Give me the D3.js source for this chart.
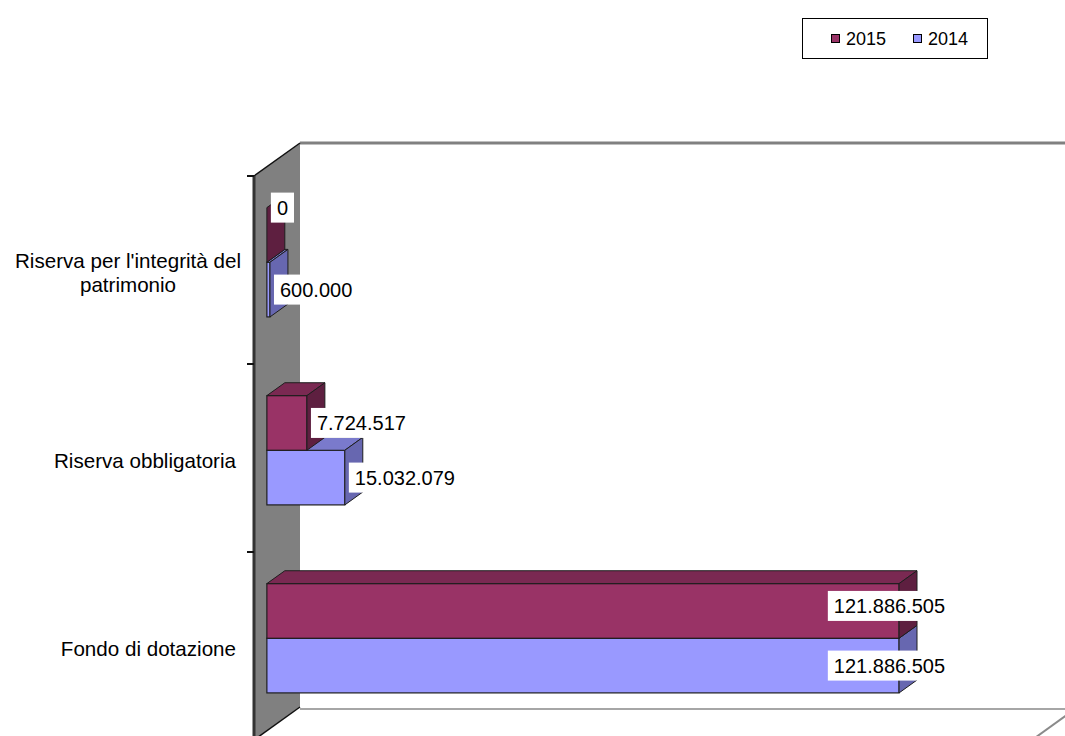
<!DOCTYPE html>
<html>
<head>
<meta charset="utf-8">
<script src="https://cdn.jsdelivr.net/npm/d3@7/dist/d3.min.js"></script>
<style>
html,body{margin:0;padding:0;background:#fff;}
svg{display:block;font-family:"Liberation Sans",Arial,sans-serif;}
</style>
</head>
<body>
<svg id="chart" width="1065" height="736"></svg>
<script>
// ---- data ----
const categories = ["Riserva per l'integrità del patrimonio", "Riserva obbligatoria", "Fondo di dotazione"];
const seriesNames = ["2015", "2014"];
const values2015 = [0, 7724517, 121886505];
const values2014 = [600000, 15032079, 121886505];
const labels2015 = ["0", "7.724.517", "121.886.505"];
const labels2014 = ["600.000", "15.032.079", "121.886.505"];

const seriesValues = [values2015, values2014];
const seriesLabels = [labels2015, labels2014];
const colors = {
  "2015": {front: "#993366", top: "#7a2952", end: "#5e1f40"},
  "2014": {front: "#9999ff", top: "#7a7acc", end: "#6767b0"}
};

const svg = d3.select("#chart");

// ---- 3D geometry ----
const pL = 254, pR = 1032, pT = 176, pB = 740;
const DX = 46, DY = -33;           // wall depth
const f0 = 0.28, f1 = 0.67;        // bar depth placement

const x = d3.scaleLinear().domain([0, 150000000]).range([pL, pR]);
const y = d3.scaleBand().domain(categories).range([pT, pB]).padding(0);
const ys = d3.scaleBand().domain(seriesNames).range([0, y.bandwidth()]).paddingInner(0).paddingOuter(0.72);

// back wall + floor
svg.append("rect").attr("x", pL + DX).attr("y", pT + DY).attr("width", pR - pL + 10).attr("height", pB - pT)
  .attr("fill", "#fff");
svg.append("polygon")
  .attr("points", [[pL + DX, pB + DY], [pR + DX, pB + DY], [pR, pB], [pL, pB]].join(" "))
  .attr("fill", "#fff");
svg.append("line").attr("x1", pL + DX).attr("x2", pR + DX + 20).attr("y1", pT + DY).attr("y2", pT + DY)
  .attr("stroke", "#808080").attr("stroke-width", 3);
svg.append("line").attr("x1", pL + DX).attr("x2", pR + DX + 20).attr("y1", pB + DY + 2).attr("y2", pB + DY + 2)
  .attr("stroke", "#a6a6a6").attr("stroke-width", 2);
svg.append("line").attr("x1", pR + DX).attr("y1", pB + DY).attr("x2", pR).attr("y2", pB)
  .attr("stroke", "#8a8a8a").attr("stroke-width", 2);

// side wall
svg.append("polygon")
  .attr("points", [[pL, pT], [pL + DX, pT + DY], [pL + DX, pB + DY], [pL, pB]].join(" "))
  .attr("fill", "#808080");
svg.append("line").attr("x1", pL).attr("y1", pT).attr("x2", pL + DX).attr("y2", pT + DY)
  .attr("stroke", "#111").attr("stroke-width", 1.5);
svg.append("line").attr("x1", pL).attr("y1", pB).attr("x2", pL + DX).attr("y2", pB + DY)
  .attr("stroke", "#111").attr("stroke-width", 1.5);
svg.append("line").attr("x1", pL).attr("y1", pT).attr("x2", pL).attr("y2", pB)
  .attr("stroke", "#333").attr("stroke-width", 3);

// ticks at band boundaries
const tickYs = categories.map(c => y(c)).concat([pB]);
svg.selectAll("line.tick").data(tickYs).enter().append("line")
  .attr("class", "tick")
  .attr("x1", pL - 7).attr("x2", pL).attr("y1", d => d).attr("y2", d => d)
  .attr("stroke", "#111").attr("stroke-width", 2);

// category labels
const catFont = 20.6;
const catG = svg.append("g");
categories.forEach(c => {
  const cy = y(c) + y.bandwidth() / 2 + 3;
  const words = c.split(" ");
  const maxW = 232;
  const t = catG.append("text").attr("font-size", catFont).attr("fill", "#000");
  let lines = [], cur = "";
  const meas = svg.append("text").attr("font-size", catFont).attr("visibility", "hidden");
  words.forEach(w => {
    const test = cur ? cur + " " + w : w;
    meas.text(test);
    if (meas.node().getComputedTextLength() > maxW && cur) { lines.push(cur); cur = w; } else cur = test;
  });
  lines.push(cur);
  let widest = 0;
  lines.forEach(l => { meas.text(l); widest = Math.max(widest, meas.node().getComputedTextLength()); });
  meas.remove();
  const lh = 24;
  const y0 = cy - (lines.length - 1) * lh / 2;
  if (lines.length === 1) {
    t.attr("text-anchor", "end");
    t.append("tspan").attr("x", 236).attr("y", y0).attr("dy", "0.35em").text(lines[0]);
  } else {
    t.attr("text-anchor", "middle");
    lines.forEach((l, i) => t.append("tspan").attr("x", 241 - widest / 2).attr("y", y0 + i * lh).attr("dy", "0.35em").text(l));
  }
});

// bars
const bdx = (f1 - f0) * DX, bdy = (f1 - f0) * DY;
const ox = f0 * DX, oy = f0 * DY + 1.5;
const bars = [];
seriesNames.forEach((s, si) => {
  categories.forEach((c, ci) => {
    const v = seriesValues[si][ci];
    const yT = y(c) + ys(s) + oy, yB = yT + ys.bandwidth();
    const xa = x(0) + ox, xb = x(v) + ox;
    bars.push({s, si, ci, v, yT, yB, xa, xb, label: seriesLabels[si][ci]});
  });
});
const drawOrder = bars.slice().sort((a, b) => b.si - a.si);
const barG = svg.append("g");
drawOrder.forEach(b => {
  const col = colors[b.s];
  const g = barG.append("g");
  if (b.xb - b.xa > 0.5) {
    g.append("rect").attr("x", b.xa).attr("y", b.yT).attr("width", b.xb - b.xa).attr("height", b.yB - b.yT)
      .attr("fill", col.front).attr("stroke", "#1e1e1e").attr("stroke-width", 1.2);
    g.append("polygon")
      .attr("points", [[b.xa, b.yT], [b.xb, b.yT], [b.xb + bdx, b.yT + bdy], [b.xa + bdx, b.yT + bdy]].join(" "))
      .attr("fill", col.top).attr("stroke", "#1e1e1e").attr("stroke-width", 1);
  }
  g.append("polygon")
    .attr("points", [[b.xb, b.yT], [b.xb + bdx, b.yT + bdy], [b.xb + bdx, b.yB + bdy], [b.xb, b.yB]].join(" "))
    .attr("fill", col.end).attr("stroke", "#1e1e1e").attr("stroke-width", 1);
});

// data labels
const labG = svg.append("g").attr("font-size", 20).attr("fill", "#000");
bars.forEach(b => {
  const t = labG.append("text").text(b.label);
  const w = t.node().getComputedTextLength();
  let tx, ty = (b.yT + b.yB) / 2;
  if (b.v > 0.7 * x.domain()[1]) {
    tx = b.xb + DX - w;
    if (b.si === 0) ty -= 5;
  } else tx = b.xb + 10;
  if (b.v === 0) ty = b.yT;
  t.attr("x", tx).attr("y", ty).attr("dy", "0.35em");
  labG.insert("rect", "text").attr("x", tx - 6).attr("y", ty - 15).attr("width", w + 12).attr("height", 30).attr("fill", "#fff");
});
labG.selectAll("text").raise();

// legend
const lg = svg.append("g");
lg.append("rect").attr("x", 802.5).attr("y", 18.5).attr("width", 185).attr("height", 40)
  .attr("fill", "#fff").attr("stroke", "#000").attr("stroke-width", 1);
const legX = [831, 913];
seriesNames.forEach((s, i) => {
  lg.append("rect").attr("x", legX[i] + 0.5).attr("y", 34.5).attr("width", 8).attr("height", 8)
    .attr("fill", colors[s].front).attr("stroke", "#000").attr("stroke-width", 1);
  lg.append("text").attr("x", legX[i] + 15).attr("y", 45).attr("font-size", 18).text(s);
});
</script>
</body>
</html>
